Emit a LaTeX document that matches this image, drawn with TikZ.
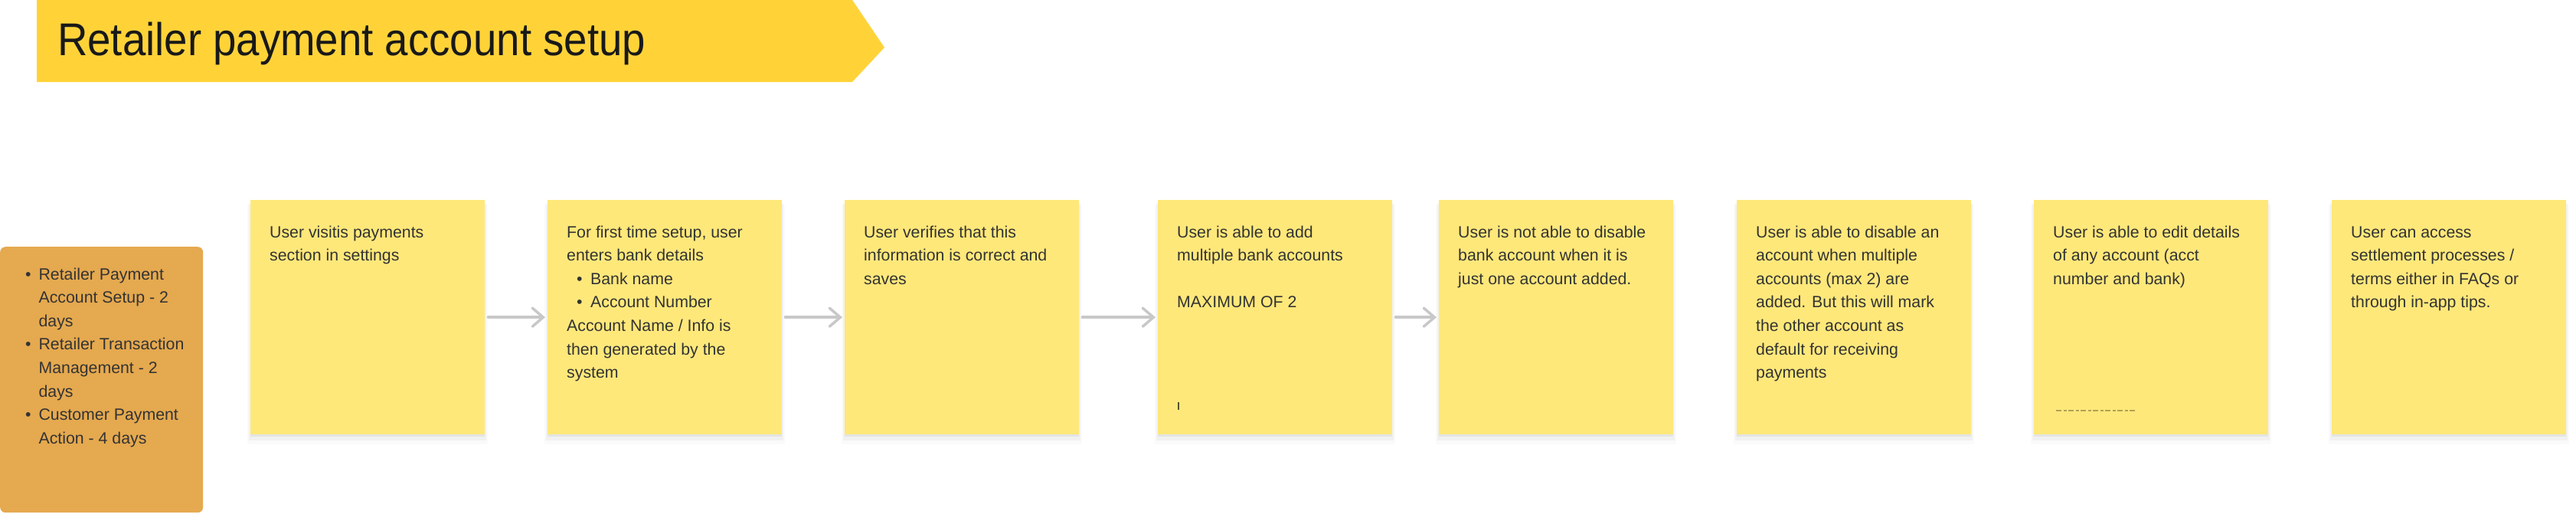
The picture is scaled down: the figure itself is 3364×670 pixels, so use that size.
\documentclass[tikz,border=0pt]{standalone}
\usepackage{fontspec}
\setmainfont{Liberation Sans}
\newfontfamily\titlefont[FakeStretch=0.91]{Liberation Sans}
\usetikzlibrary{arrows.meta,shadows}
\definecolor{bannerc}{HTML}{FFD338}
\definecolor{stickyc}{HTML}{FFE87A}
\definecolor{orangec}{HTML}{E5A94F}
\definecolor{textc}{HTML}{333333}
\definecolor{arrowc}{HTML}{C8C8C8}
\newcommand\notefont{\fontsize{21.3}{30.6}\selectfont}
\newcommand\stbul{\makebox[18pt][l]{•}}
\newcommand\obul{\makebox[17.4pt][l]{•}}
\newcommand\oind{\hspace*{17.4pt}}
\begin{document}
\begin{tikzpicture}[x=1pt,y=-1pt,
  sticky/.style={fill=stickyc, minimum width=306pt, minimum height=306pt, inner sep=0pt, anchor=north west,
    drop shadow={shadow xshift=0pt, shadow yshift=-3pt, shadow scale=1.0, fill=black, opacity=0.05},
    drop shadow={shadow xshift=0pt, shadow yshift=-6pt, shadow scale=1.012, fill=black, opacity=0.035},
    drop shadow={shadow xshift=0pt, shadow yshift=-9pt, shadow scale=1.025, fill=black, opacity=0.02}},
  notetext/.style={anchor=base west, inner sep=0pt, text=textc, font=\notefont},
  conn/.style={draw=arrowc, line width=3.5pt, line cap=round, shorten <=4pt, shorten >=3pt,
    -{Straight Barb[length=14pt,width=24pt,line cap=round]}}
]
\useasboundingbox (0,0) rectangle (3364,670);
% title banner
\fill[bannerc] (48,0) -- (1113,0) -- (1155,62) -- (1113,107) -- (48,107) -- cycle;
\node[anchor=base west, inner sep=0pt, text=black!90] (title) at (75,72)
  {\titlefont\fontsize{60}{60}\selectfont Retailer payment account setup};
% orange info box
\node[fill=orangec, rounded corners=7pt, minimum width=265pt, minimum height=347pt, inner sep=0pt,
  anchor=north west] (info) at (0,322) {};
\node[notetext] (infotext) at (33,365) {\parbox[t]{230pt}{\raggedright
  \obul Retailer Payment\\ \oind Account Setup - 2\\ \oind days\\
  \obul Retailer Transaction\\ \oind Management - 2\\ \oind days\\
  \obul Customer Payment\\ \oind Action - 4 days}};
% sticky notes
\node[sticky] (s1) at (327,261) {};
\node[sticky] (s2) at (715,261) {};
\node[sticky] (s3) at (1103,261) {};
\node[sticky] (s4) at (1512,261) {};
\node[sticky] (s5) at (1879,261) {};
\node[sticky] (s6) at (2268,261) {};
\node[sticky] (s7) at (2656,261) {};
\node[sticky] (s8) at (3045,261) {};
% texts
\node[notetext] (t1) at ([xshift=25pt,yshift=-49pt]s1.north west) {\parbox[t]{280pt}{\raggedright
  User visitis payments\\section in settings}};
\node[notetext] (t2) at ([xshift=25pt,yshift=-49pt]s2.north west) {\parbox[t]{280pt}{\raggedright
  For first time setup, user\\enters bank details\\ \hspace*{13pt}\stbul Bank name\\
  \hspace*{13pt}\stbul Account Number\\Account Name / Info is\\then generated by the\\system}};
\node[notetext] (t3) at ([xshift=25pt,yshift=-49pt]s3.north west) {\parbox[t]{280pt}{\raggedright
  User verifies that this\\information is correct and\\saves}};
\node[notetext] (t4) at ([xshift=25pt,yshift=-49pt]s4.north west) {\parbox[t]{280pt}{\raggedright
  User is able to add\\multiple bank accounts\\ \mbox{}\\MAXIMUM OF 2}};
\node[notetext] (t5) at ([xshift=25pt,yshift=-49pt]s5.north west) {\parbox[t]{280pt}{\raggedright
  User is not able to disable\\bank account when it is\\just one account added.}};
\node[notetext] (t6) at ([xshift=25pt,yshift=-49pt]s6.north west) {\parbox[t]{280pt}{\raggedright
  User is able to disable an\\account when multiple\\accounts (max 2) are\\added. But this will mark\\the other account as\\default for receiving\\payments}};
\node[notetext] (t7) at ([xshift=25pt,yshift=-49pt]s7.north west) {\parbox[t]{280pt}{\raggedright
  User is able to edit details\\of any account (acct\\number and bank)}};
\node[notetext] (t8) at ([xshift=25pt,yshift=-49pt]s8.north west) {\parbox[t]{280pt}{\raggedright
  User can access\\settlement processes /\\terms either in FAQs or\\through in-app tips.}};
% small marks
\draw[line width=1.3pt, color=black!65!stickyc] (1539,525) -- (1539,535);
\draw[line width=1.2pt, color=black!30!stickyc, dash pattern=on 7pt off 3pt on 4pt off 2pt] (2685,536) -- (2788,536);
% connectors
\draw[conn] (s1.east) -- (s2.west);
\draw[conn] (s2.east) -- (s3.west);
\draw[conn] (s3.east) -- (s4.west);
\draw[conn] (s4.east) -- (s5.west);
\end{tikzpicture}
\end{document}
